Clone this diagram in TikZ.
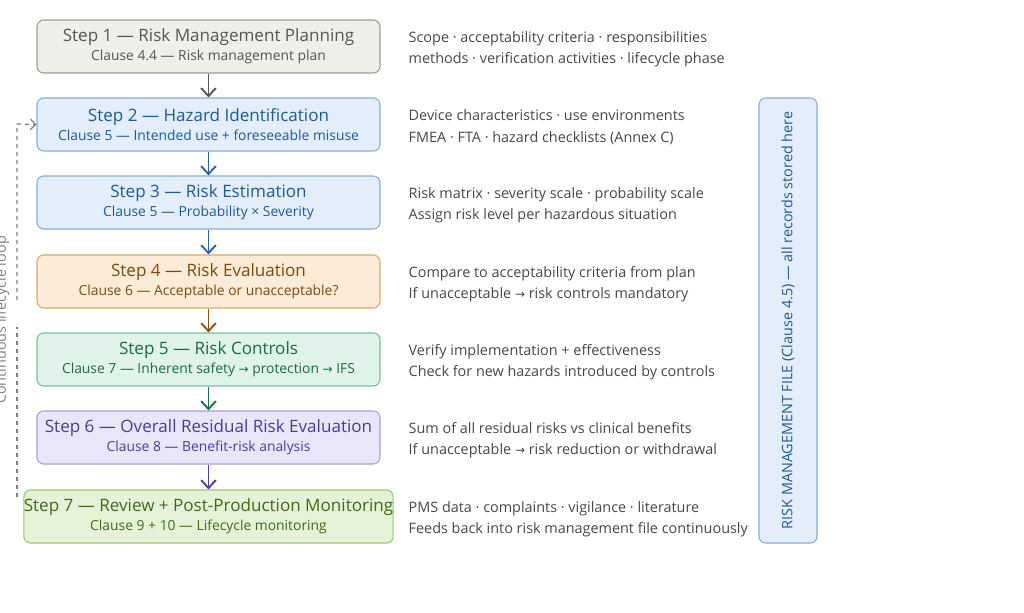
\documentclass[tikz,border=0pt]{standalone}
\usepackage{fontspec}
\setmainfont{Open Sans}
\newfontfamily\djv{DejaVu Sans}
\usetikzlibrary{arrows.meta}
\newcommand\ttlf{\fontsize{12.8}{15}\selectfont}
\newcommand\subf{\fontsize{10.4}{12}\selectfont}
\newcommand\rarr{{\djv\fontsize{9}{12}\selectfont →}}
\begin{document}
\begin{tikzpicture}[x=0.75pt,y=-0.75pt,
 stepbox/.style={draw,rounded corners=5pt,line width=0.8pt,minimum width=343*0.75pt,minimum height=53*0.75pt,align=center,inner sep=0pt},
 side/.style={anchor=west,font=\fontsize{10.8}{13}\selectfont,text=black!72,align=left},
 conn/.style={-{Straight Barb[length=6pt,width=11pt]},line width=1.4pt}]
\useasboundingbox (0,0) rectangle (1024,612);
\definecolor{gA}{HTML}{EFEFEA}\definecolor{gB}{HTML}{9C9C94}\definecolor{gT}{HTML}{555555}
\definecolor{bA}{HTML}{E3EEFA}\definecolor{bB}{HTML}{82AEDB}\definecolor{bT}{HTML}{1F5A96}
\definecolor{oA}{HTML}{FCEBD6}\definecolor{oB}{HTML}{DBA96B}\definecolor{oT}{HTML}{7A4A10}
\definecolor{sA}{HTML}{DFF3EA}\definecolor{sB}{HTML}{72C19A}\definecolor{sT}{HTML}{1B6B45}
\definecolor{pA}{HTML}{EAE6FA}\definecolor{pB}{HTML}{A99CDC}\definecolor{pT}{HTML}{4B3C99}
\definecolor{lA}{HTML}{E6F2D8}\definecolor{lB}{HTML}{9AC670}\definecolor{lT}{HTML}{3F6B1A}
\definecolor{bArr}{HTML}{2A62A8}\definecolor{oArr}{HTML}{8A5410}\definecolor{sArr}{HTML}{1E7048}\definecolor{pArr}{HTML}{4B3CA8}
\node[stepbox,fill=gA,draw=gB,text=gT] (s1) at (208.5,46.5) {{\ttlf Step 1 — Risk Management Planning}\\[2pt]{\subf Clause 4.4 — Risk management plan}};
\node[stepbox,fill=bA,draw=bB,text=bT] (s2) at (208.5,124.5) {{\ttlf Step 2 — Hazard Identification}\\[2pt]{\subf Clause 5 — Intended use + foreseeable misuse}};
\node[stepbox,fill=bA,draw=bB,text=bT] (s3) at (208.5,202.5) {{\ttlf Step 3 — Risk Estimation}\\[2pt]{\subf Clause 5 — Probability × Severity}};
\node[stepbox,fill=oA,draw=oB,text=oT] (s4) at (208.5,281.5) {{\ttlf Step 4 — Risk Evaluation}\\[2pt]{\subf Clause 6 — Acceptable or unacceptable?}};
\node[stepbox,fill=sA,draw=sB,text=sT] (s5) at (208.5,359.5) {{\ttlf Step 5 — Risk Controls}\\[2pt]{\subf Clause 7 — Inherent safety \rarr{} protection \rarr{} IFS}};
\node[stepbox,fill=pA,draw=pB,text=pT] (s6) at (208.5,437.5) {{\ttlf Step 6 — Overall Residual Risk Evaluation}\\[2pt]{\subf Clause 8 — Benefit-risk analysis}};
\node[stepbox,fill=lA,draw=lB,text=lT] (s7) at (208.5,516.5) {{\ttlf Step 7 — Review + Post-Production Monitoring}\\[2pt]{\subf Clause 9 + 10 — Lifecycle monitoring}};
\draw[conn,draw=gT] (s1) -- (s2);
\draw[conn,draw=bArr] (s2) -- (s3);
\draw[conn,draw=bArr] (s3) -- (s4);
\draw[conn,draw=oArr] (s4) -- (s5);
\draw[conn,draw=sArr] (s5) -- (s6);
\draw[conn,draw=pArr] (s6) -- (s7);
\node[side] (t1) at (404,49) {Scope · acceptability criteria · responsibilities\\[3pt]methods · verification activities · lifecycle phase};
\node[side] (t2) at (404,127) {Device characteristics · use environments\\[3pt]FMEA · FTA · hazard checklists (Annex C)};
\node[side] (t3) at (404,205) {Risk matrix · severity scale · probability scale\\[3pt]Assign risk level per hazardous situation};
\node[side] (t4) at (404,284) {Compare to acceptability criteria from plan\\[3pt]If unacceptable \rarr{} risk controls mandatory};
\node[side] (t5) at (404,362) {Verify implementation + effectiveness\\[3pt]Check for new hazards introduced by controls};
\node[side] (t6) at (404,440) {Sum of all residual risks vs clinical benefits\\[3pt]If unacceptable \rarr{} risk reduction or withdrawal};
\node[side] (t7) at (404,519) {PMS data · complaints · vigilance · literature\\[3pt]Feeds back into risk management file continuously};
\node[draw=bB,fill=bA,rounded corners=5pt,line width=0.8pt,minimum width=58*0.75pt,minimum height=445*0.75pt] (rmf) at (788,320.5) {};
\node[rotate=90,text=bT,font=\fontsize{10.8}{13}\selectfont] (rmft) at (rmf.center) {RISK MANAGEMENT FILE (Clause 4.5) — all records stored here};
\coordinate (l1) at (17,497); \coordinate (l2) at (17,327); \coordinate (l3) at (17,300); \coordinate (l4) at (17,124);
\draw[dashed,line width=0.9pt,draw=black!50] (l1) -- (l2);
\draw[dashed,line width=0.9pt,draw=black!50,-{Straight Barb[length=4pt,width=8pt]}] (l3) -- (l4) -- (s2.west);
\node[rotate=90,text=black!50,font=\fontsize{10.8}{13}\selectfont] (loop) at (2,320) {Continuous lifecycle loop};
\end{tikzpicture}
\end{document}
